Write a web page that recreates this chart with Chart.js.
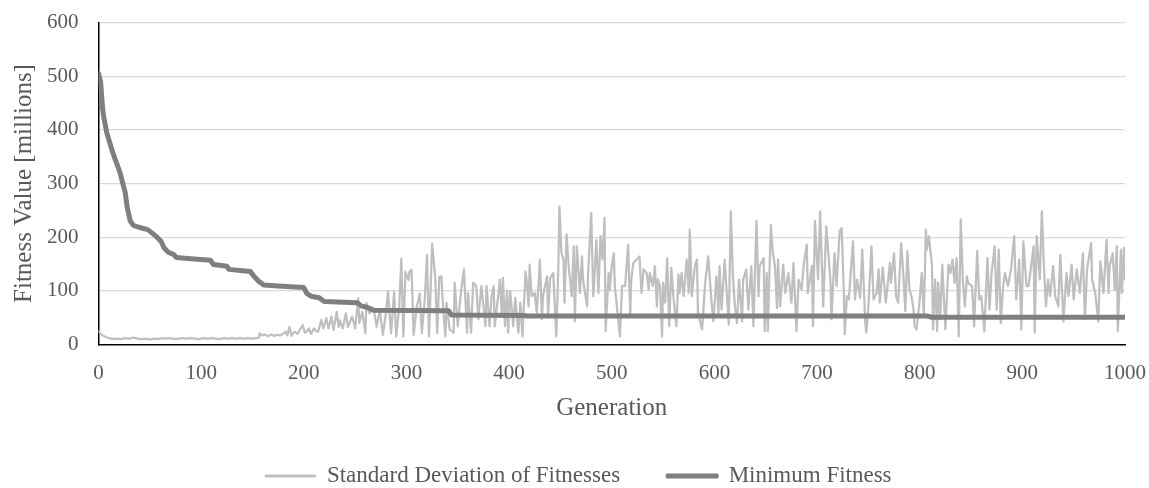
<!DOCTYPE html>
<html>
<head>
<meta charset="utf-8">
<script src="https://cdn.jsdelivr.net/npm/chart.js"></script>
<style>
  body { margin: 0; background: #fff; }
  #wrap { width: 1149px; height: 488px; }
</style>
</head>
<body>
<div id="wrap"><canvas id="myChart"></canvas></div>
<script>
// values (fitness in millions)
var minGens   = [0, 2, 4, 5, 8, 14, 21, 26, 28, 31, 34, 40, 48, 52, 57, 61, 64, 68, 73, 76, 90, 109, 112, 125, 127, 148, 151, 156, 161, 175, 200, 203, 207, 215, 220, 252, 256, 262, 268, 341, 344, 414, 417, 808, 811, 1000];
var minValues = [505, 490, 440, 425, 395, 357, 320, 283, 255, 230, 222, 218, 214, 208, 200, 192, 180, 172, 168, 162, 160, 157, 149, 146, 140, 136, 128, 118, 111, 109, 106, 95, 90, 87, 80, 78, 72, 69, 64, 63, 55, 54, 53, 53, 51, 51];

var stdGens = [0, 2, 4, 7, 10, 14, 18, 22, 26, 30, 34, 38, 42, 46, 50, 54, 58, 62, 66, 70, 74, 78, 82, 86, 90, 94, 98, 102, 106, 110, 114, 118, 122, 126, 130, 134, 138, 142, 146, 150, 154, 156,
  157, 159, 162, 165, 168, 171, 174, 177, 180, 182, 184, 186, 188, 191, 194, 196, 198, 199, 201, 203, 205, 207, 210, 212, 214, 217, 219, 222, 224, 227, 229, 232, 234, 235, 238, 241, 243, 247, 249, 250, 253, 254, 257, 260, 261, 264, 268, 271, 274, 277, 280,
  282, 285, 288, 290, 293, 295, 297, 299, 302, 303, 305, 307, 310, 313, 315, 318, 320, 322, 325, 328, 330, 332, 334, 336, 338, 339, 342, 346, 347, 350, 353, 356, 359, 360, 363, 365, 368, 370, 373, 377, 378, 381, 383, 385, 386, 390, 391, 393, 394, 396, 398, 399,
  401, 404, 406, 409, 411, 413, 416, 417, 419, 420, 422, 425, 427, 430, 432, 433, 437, 438, 440, 443, 446, 448, 449, 451, 453, 454, 456, 458, 461, 463, 464, 466, 469, 471, 472, 476, 477, 480, 482, 483, 485, 487, 489, 491, 493, 494, 497, 498,
  500, 502, 503, 505, 508, 510, 513, 516, 518, 519, 521, 524, 527, 529, 531, 534, 536, 537, 540, 542, 544, 545, 547, 549, 550, 552, 554, 556, 558, 560, 563, 565, 566, 568, 570, 573, 575, 576, 578, 579, 581, 583, 584, 588, 591, 594, 597, 599,
  602, 604, 605, 607, 610, 614, 616, 618, 620, 622, 624, 627, 628, 631, 633, 636, 638, 641, 643, 644, 648, 649, 651, 652, 655, 657, 659, 661, 662, 664, 667, 669, 672, 675, 677, 680, 682, 685, 687, 690, 691, 695, 696, 698,
  701, 703, 706, 709, 713, 714, 717, 719, 722, 724, 726, 727, 729, 731, 735, 737, 739, 742, 744, 747, 748, 750, 753, 755, 758, 760, 761, 764, 767, 771, 772, 775, 777, 779, 782, 784, 786, 788, 790, 792, 794, 795, 797,
  800, 802, 804, 806, 807, 809, 812, 813, 815, 817, 818, 820, 822, 825, 828, 830, 832, 834, 836, 838, 840, 842, 844, 846, 847, 851, 853, 856, 858, 860, 863, 866, 868, 870, 873, 875, 877, 879, 881, 883, 886, 889, 892, 894, 897, 899,
  901, 904, 906, 909, 911, 912, 914, 917, 919, 921, 923, 925, 927, 930, 932, 935, 937, 940, 943, 945, 948, 950, 953, 956, 959, 961, 963, 967, 968, 971, 974, 976, 979, 982, 984, 985, 988, 990, 992, 993, 996, 997, 999, 1000];
var stdValues = [25, 20, 17, 14, 12, 10, 11, 10, 12, 11, 13, 11, 10, 11, 9, 11, 10, 12, 11, 12, 10, 11, 12, 11, 12, 11, 10, 12, 11, 12, 11, 10, 12, 11, 12, 11, 12, 11, 12, 11, 12, 12,
  21, 17, 19, 15, 19, 16, 18, 17, 20, 24, 17, 33, 16, 24, 20, 27, 33, 36, 22, 24, 30, 20, 30, 25, 24, 46, 30, 49, 30, 52, 27, 61, 33, 45, 30, 58, 33, 52, 40, 30, 86, 40, 61, 21, 77, 58, 67, 33, 64, 18, 58,
  98, 21, 98, 15, 70, 160, 15, 136, 120, 136, 139, 18, 70, 95, 21, 89, 167, 15, 188, 126, 21, 126, 127, 60, 15, 78, 28, 22, 115, 34, 96, 140, 22, 96, 22, 115, 109, 47, 109, 34, 109, 34, 90, 109, 34, 102, 121, 53, 124, 34, 100, 22,
  100, 34, 87, 22, 78, 15, 136, 121, 71, 149, 90, 96, 59, 158, 47, 90, 127, 53, 124, 133, 15, 146, 257, 170, 158, 78, 205, 146, 90, 183, 43, 183, 96, 164, 121, 71, 133, 245, 90, 121, 195, 96, 202, 158, 236, 25, 133, 102,
  146, 170, 109, 71, 15, 109, 109, 186, 53, 121, 152, 158, 164, 96, 140, 133, 102, 133, 109, 146, 71, 121, 109, 15, 115, 78, 161, 34, 143, 90, 34, 130, 96, 133, 90, 158, 96, 214, 90, 109, 146, 158, 59, 28, 115, 164, 84, 43,
  127, 59, 146, 65, 158, 37, 248, 127, 71, 40, 121, 43, 121, 140, 65, 146, 34, 230, 90, 146, 161, 25, 133, 25, 223, 170, 146, 68, 158, 71, 149, 96, 133, 78, 152, 25, 121, 102, 149, 186, 96, 146, 34, 230,
  121, 248, 71, 220, 121, 47, 170, 109, 211, 217, 102, 19, 90, 84, 192, 84, 121, 87, 177, 40, 22, 71, 183, 84, 96, 140, 78, 143, 78, 152, 115, 170, 90, 78, 189, 133, 62, 174, 102, 90, 65, 34, 28,
  84, 133, 53, 214, 177, 202, 146, 28, 121, 25, 115, 47, 149, 28, 149, 133, 158, 115, 161, 15, 233, 121, 71, 127, 115, 109, 34, 174, 84, 90, 25, 161, 65, 133, 183, 65, 177, 40, 102, 133, 109, 140, 202, 84, 158, 28,
  192, 109, 109, 152, 183, 22, 202, 121, 248, 146, 71, 121, 90, 146, 90, 71, 167, 43, 133, 90, 149, 84, 140, 96, 170, 47, 140, 189, 121, 96, 43, 155, 96, 195, 96, 146, 170, 102, 183, 25, 177, 96, 180, 121];

var seriesNames = ['Minimum Fitness', 'Standard Deviation of Fitnesses'];

function toPoints(gens, vals) {
  return gens.map(function(g, i) { return { x: g, y: vals[i] }; });
}

// drop the extra room chart.js keeps for edge labels, so the plot box is where we put it
function noScalePadding(scale) {
  scale.paddingTop = 0;
  scale.paddingBottom = 0;
  scale.paddingLeft = 0;
  scale.paddingRight = 0;
}

Chart.defaults.font.family = "'Liberation Serif', 'Times New Roman', serif";
Chart.defaults.font.size = 21;
Chart.defaults.color = '#595959';

const data = {
  datasets: [{
    label: seriesNames[0],
    data: toPoints(minGens, minValues),
    borderColor: '#7f7f7f',
    backgroundColor: '#7f7f7f',
    borderWidth: 5,
    legendThickness: 3
  },
  {
    label: seriesNames[1],
    data: toPoints(stdGens, stdValues),
    borderColor: '#bfbfbf',
    backgroundColor: '#bfbfbf',
    borderWidth: 2.25,
    legendThickness: 1
  }]
};

const config = {
  type: 'line',
  data,
  options: {
    responsive: true,
    maintainAspectRatio: false,
    animation: false,
    elements: {
      point: { radius: 0 },
      line: { tension: 0, borderJoinStyle: 'round', borderCapStyle: 'round' }
    },
    layout: {
      // bottom is negative so the legend text sits close to the lower edge
      padding: { left: 8, right: 0, top: 22.5, bottom: -9.5 }
    },
    plugins: {
      tooltip: { enabled: false },
      legend: {
        position: 'bottom',
        labels: {
          boxWidth: 50,
          boxHeight: 2,
          padding: 47,
          color: '#595959',
          font: { size: 23 },
          sort: function(a, b) { return b.datasetIndex - a.datasetIndex; },
          generateLabels: function(chart) {
            var items = Chart.defaults.plugins.legend.labels.generateLabels(chart);
            items.forEach(function(it) {
              var ds = chart.data.datasets[it.datasetIndex];
              it.fillStyle = ds.borderColor;
              it.strokeStyle = ds.borderColor;
              it.lineWidth = ds.legendThickness;
            });
            return items;
          }
        }
      }
    },
    scales: {
      x: {
        type: 'linear',
        min: 0,
        max: 1000,
        ticks: { stepSize: 100, padding: 16, maxRotation: 0, callback: function(v) { return String(v); } },
        grid: { display: false, drawTicks: false },
        border: { display: true, color: '#000', width: 1.5 },
        title: { display: true, text: 'Generation', padding: { top: 0, bottom: -6 }, font: { size: 25 } },
        afterFit: function(scale) { scale.height = 73; noScalePadding(scale); }
      },
      y: {
        min: 0,
        max: 600,
        ticks: { stepSize: 100, padding: 20 },
        grid: {
          drawTicks: false,
          lineWidth: 1.3,
          color: function(c) { return c.tick && c.tick.value === 0 ? 'rgba(0,0,0,0)' : '#d9d9d9'; }
        },
        border: { display: true, color: '#000', width: 1.5 },
        title: { display: true, text: 'Fitness Value [millions]', padding: { top: 1, bottom: 0 }, font: { size: 25 } },
        afterFit: function(scale) { scale.width = 90.5; noScalePadding(scale); }
      },
      // empty right strip, keeps the plot off the right edge
      yRight: {
        position: 'right',
        display: true,
        grid: { display: false, drawTicks: false },
        border: { display: false },
        ticks: { display: false },
        afterFit: function(scale) { scale.width = 24; noScalePadding(scale); }
      }
    }
  }
};

var myChart = new Chart(document.getElementById('myChart'), config);
</script>
</body>
</html>
